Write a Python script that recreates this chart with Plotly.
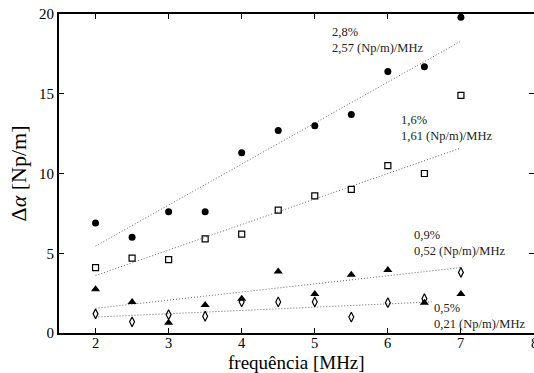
import plotly.graph_objects as go

freq = [2, 2.5, 3, 3.5, 4, 4.5, 5, 5.5, 6, 6.5, 7]
circ = [6.9, 6.0, 7.6, 7.6, 11.3, 12.7, 13.0, 13.7, 16.4, 16.7, 19.8]
squa = [4.1, 4.7, 4.6, 5.9, 6.2, 7.7, 8.6, 9.0, 10.5, 10.0, 14.9]
tria = [2.75, 1.95, 0.65, 1.75, 2.15, 3.85, 2.45, 3.65, 3.95, 1.9, 2.45]
diam = [1.2, 0.7, 1.15, 1.05, 1.95, 1.95, 1.95, 1.0, 1.9, 2.15, 3.8]

fit_circ_x = [2, 7]; fit_circ_y = [5.45, 18.3]
fit_squa_x = [2, 7]; fit_squa_y = [3.6, 11.6]
fit_tria_x = [2, 7]; fit_tria_y = [1.55, 4.1]
fit_diam_x = [2, 6.6]; fit_diam_y = [1.0, 1.95]

x_ticks = [2, 3, 4, 5, 6, 7, 8]
y_ticks = [0, 5, 10, 15, 20]

labels = [
    ("2,8%<br>2,57 (Np/m)/MHz", 5.22, 18.4),
    ("1,6%<br>1,61 (Np/m)/MHz", 6.16, 12.88),
    ("0,9%<br>0,52 (Np/m)/MHz", 6.34, 5.62),
    ("0,5%<br>0,21 (Np/m)/MHz", 6.62, 1.05),
]
x_title = "frequência [MHz]"
y_title = "Δ<i>α</i> [Np/m]"

FONT = "Liberation Serif, Times New Roman, serif"
fig = go.Figure()
for fx, fy in [(fit_circ_x, fit_circ_y), (fit_squa_x, fit_squa_y),
               (fit_tria_x, fit_tria_y), (fit_diam_x, fit_diam_y)]:
    fig.add_trace(go.Scatter(x=fx, y=fy, mode="lines",
                             line=dict(color="#666666", width=1, dash="1px,2px"),
                             showlegend=False, hoverinfo="skip"))

fig.add_trace(go.Scatter(x=freq, y=circ, mode="markers",
                         marker=dict(symbol="circle", size=7, color="black"), showlegend=False))
fig.add_trace(go.Scatter(x=freq, y=squa, mode="markers",
                         marker=dict(symbol="square-open", size=6, color="black",
                                     line=dict(width=1.2, color="black")), showlegend=False))
fig.add_trace(go.Scatter(x=freq, y=tria, mode="markers",
                         marker=dict(symbol="triangle-up", size=8, color="black"), showlegend=False))
fig.add_trace(go.Scatter(x=freq, y=diam, mode="markers",
                         marker=dict(symbol="diamond-tall-open", size=7, color="black",
                                     line=dict(width=1.2, color="black")), showlegend=False))

for txt, ax, ay in labels:
    fig.add_annotation(x=ax, y=ay, xref="x", yref="y", text=txt, showarrow=False,
                       xanchor="left", yanchor="middle", align="left",
                       font=dict(family=FONT, size=12.5, color="#222"), borderpad=0)

# x tick labels placed tight under the axis (as in the reference)
for t in x_ticks:
    fig.add_annotation(x=t, y=0, xref="x", yref="paper", text=str(t), showarrow=False,
                       xanchor="center", yanchor="middle", yshift=-10, borderpad=0,
                       font=dict(family=FONT, size=14.5, color="black"))

# x axis title
fig.add_annotation(x=0.5, y=0, xref="paper", yref="paper", text=x_title,
                   showarrow=False, xanchor="center", yanchor="middle", yshift=-29,
                   borderpad=0, font=dict(family=FONT, size=19, color="black"))

tick_common = dict(ticks="inside", ticklen=5, tickcolor="black", tickwidth=1,
                   showgrid=False, zeroline=False)
fig.update_xaxes(range=[1.5, 8.0], tickvals=x_ticks, showticklabels=False,
                 showline=True, linecolor="black", linewidth=2, mirror="ticks",
                 **tick_common)
fig.update_yaxes(range=[0, 20], tickvals=y_ticks,
                 showline=True, linecolor="black", linewidth=2, mirror=False,
                 tickfont=dict(family=FONT, size=15, color="black"),
                 title=dict(text=y_title, font=dict(family=FONT, size=22, color="black"),
                            standoff=6),
                 **tick_common)
fig.update_layout(
    yaxis2=dict(overlaying="y", side="right", range=[0, 20], tickvals=y_ticks,
                showline=False, showticklabels=False, ticks="inside", ticklen=5,
                tickcolor="black", tickwidth=1, showgrid=False, zeroline=False),
    width=534, height=373, margin=dict(l=59, r=0, t=14, b=40),
    paper_bgcolor="white", plot_bgcolor="white")
fig.add_trace(go.Scatter(x=[None], y=[None], yaxis="y2", showlegend=False, hoverinfo="skip"))
fig.write_html("out.html")
